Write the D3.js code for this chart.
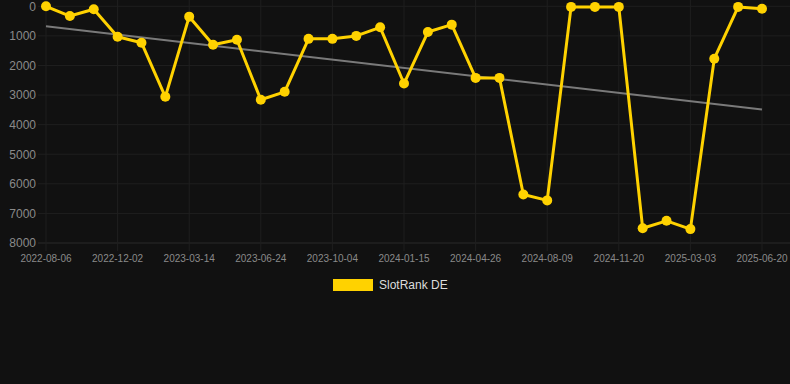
<!DOCTYPE html>
<html><head><meta charset="utf-8">
<script src="https://cdn.jsdelivr.net/npm/d3@7"></script>
<style>html,body{margin:0;padding:0;background:#111111;}svg{display:block;}</style>
</head><body>
<svg id="c" width="790" height="384"></svg>
<script>
const dates = ["2022-08-06","2022-09-14","2022-10-23","2022-12-02","2023-01-05","2023-02-08","2023-03-14","2023-04-17","2023-05-21","2023-06-24","2023-07-28","2023-08-31","2023-10-04","2023-11-07","2023-12-11","2024-01-15","2024-02-18","2024-03-23","2024-04-26","2024-05-30","2024-07-04","2024-08-09","2024-09-12","2024-10-16","2024-11-20","2024-12-24","2025-01-27","2025-03-03","2025-04-08","2025-05-14","2025-06-20"];
const values = [0,330,100,1030,1230,3060,350,1300,1130,3160,2890,1100,1100,1000,710,2610,870,620,2420,2420,6360,6560,20,20,20,7500,7250,7530,1770,20,80];
const yTicks = [0,1000,2000,3000,4000,5000,6000,7000,8000];
const seriesName = "SlotRank DE";

(function () {
const svg = d3.select("#c");
const pl = 46, pr = 762, pt = 6.3, pb = 243;
const x = d3.scalePoint().domain(dates).range([pl, pr]);
const y = d3.scaleLinear().domain([0, 8000]).range([pt, pb]);
const gridColor = "#1f1f1f";

svg.append("g").selectAll("line").data(yTicks).join("line")
  .attr("x1", 38).attr("x2", 790)
  .attr("y1", d => y(d)).attr("y2", d => y(d))
  .attr("stroke", d => d === 8000 ? "#2a2a2a" : gridColor).attr("stroke-width", 1);
const xTickDates = dates.filter((d, i) => i % 3 === 0);
svg.append("g").selectAll("line").data(xTickDates).join("line")
  .attr("x1", d => x(d)).attr("x2", d => x(d))
  .attr("y1", 0).attr("y2", pb + 8)
  .attr("stroke", gridColor).attr("stroke-width", 1);

svg.append("g").selectAll("text").data(yTicks).join("text")
  .attr("x", 36).attr("y", d => y(d))
  .attr("dy", "0.36em").attr("text-anchor", "end")
  .attr("fill", "#8a8a8a").attr("font-family", "Liberation Sans, Arial, sans-serif")
  .attr("font-size", 12).text(d => d);
svg.append("g").selectAll("text").data(xTickDates).join("text")
  .attr("x", d => x(d)).attr("y", 262)
  .attr("text-anchor", "middle")
  .attr("fill", "#8a8a8a").attr("font-family", "Liberation Sans, Arial, sans-serif")
  .attr("font-size", 10).text(d => d);

const n = values.length;
const idx = d3.range(n);
const mx = d3.mean(idx), my = d3.mean(values);
const slope = d3.sum(idx, i => (i - mx) * (values[i] - my)) / d3.sum(idx, i => (i - mx) ** 2);
const icpt = my - slope * mx;
svg.append("line")
  .attr("x1", x(dates[0])).attr("y1", y(icpt))
  .attr("x2", x(dates[n - 1])).attr("y2", y(icpt + slope * (n - 1)))
  .attr("stroke", "#7a7a7a").attr("stroke-width", 2);

const line = d3.line().x((d, i) => x(dates[i])).y(d => y(d));
svg.append("path").datum(values).attr("d", line)
  .attr("fill", "none").attr("stroke", "#ffd200").attr("stroke-width", 3)
  .attr("stroke-linejoin", "round");
svg.append("g").selectAll("circle").data(values).join("circle")
  .attr("cx", (d, i) => x(dates[i])).attr("cy", d => y(d)).attr("r", 5)
  .attr("fill", "#ffd200");

svg.append("rect").attr("x", 333).attr("y", 279).attr("width", 40).attr("height", 12)
  .attr("fill", "#ffd200");
svg.append("text").attr("x", 379).attr("y", 285).attr("dy", "0.36em")
  .attr("fill", "#dddddd").attr("font-family", "Liberation Sans, Arial, sans-serif")
  .attr("font-size", 12).text(seriesName);
})();
</script>
</body></html>
